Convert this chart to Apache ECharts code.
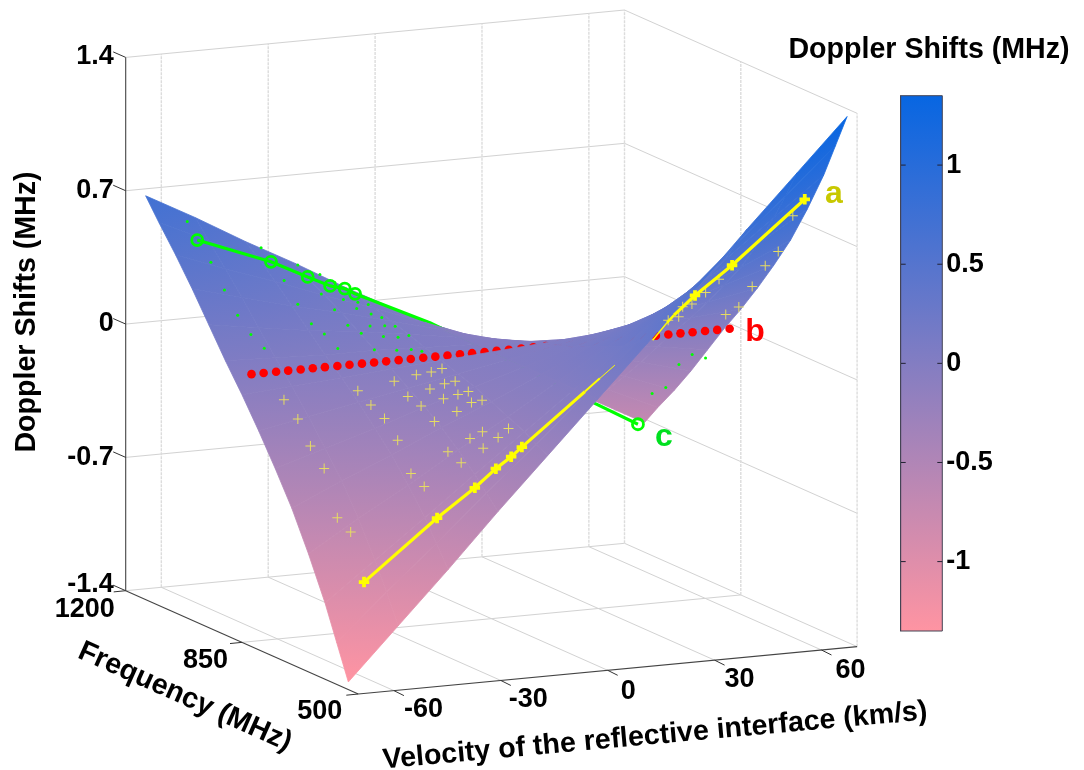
<!DOCTYPE html>
<html><head><meta charset="utf-8"><style>html,body{margin:0;padding:0;background:#fff}#c{width:1084px;height:770px}</style>
<script src="https://cdn.jsdelivr.net/npm/echarts@6/dist/echarts.min.js"></script></head><body><div id="c"></div>
<script>
// ---------- tick labels
var velocityTicks = [-60, -30, 0, 30, 60];
var frequencyTicks = [1200, 850, 500];
var dopplerTicks = [-1.4, -0.7, 0, 0.7, 1.4];
var colorbarTicks = [-1, -0.5, 0, 0.5, 1];
// ---------- surface (rows far to near)
var surfaceFreq = [1140, 1100, 1050, 1000, 950, 900, 850, 800, 750, 700, 650, 600, 565, 530];
var surfaceVel = [-70, -56, -42, -28, -14, 0, 14, 28, 42, 56, 70];
var surfaceZ = [
 [0.72, 0.58, 0.43, 0.29, 0.14, 0, -0.14, -0.29, -0.43, -0.58, -0.72],
 [0.61, 0.49, 0.37, 0.24, 0.12, 0, -0.12, -0.24, -0.37, -0.49, -0.61],
 [0.48, 0.38, 0.29, 0.19, 0.10, 0, -0.10, -0.19, -0.29, -0.38, -0.48],
 [0.34, 0.27, 0.20, 0.14, 0.07, 0, -0.07, -0.14, -0.20, -0.27, -0.34],
 [0.19, 0.15, 0.11, 0.08, 0.04, 0, -0.04, -0.08, -0.11, -0.15, -0.19],
 [0.04, 0.03, 0.02, 0.02, 0.01, 0, -0.01, -0.02, -0.02, -0.03, -0.04],
 [-0.10, -0.08, -0.06, -0.04, -0.02, 0, 0.02, 0.04, 0.06, 0.08, 0.10],
 [-0.25, -0.20, -0.15, -0.10, -0.05, 0, 0.05, 0.10, 0.15, 0.20, 0.25],
 [-0.41, -0.33, -0.25, -0.16, -0.08, 0, 0.08, 0.16, 0.25, 0.33, 0.41],
 [-0.58, -0.46, -0.35, -0.23, -0.12, 0, 0.12, 0.23, 0.35, 0.46, 0.58],
 [-0.78, -0.62, -0.47, -0.31, -0.16, 0, 0.16, 0.31, 0.47, 0.62, 0.78],
 [-1.00, -0.80, -0.60, -0.40, -0.20, 0, 0.20, 0.40, 0.60, 0.80, 1.00],
 [-1.18, -0.94, -0.71, -0.47, -0.24, 0, 0.24, 0.47, 0.71, 0.94, 1.18],
 [-1.36, -1.09, -0.82, -0.54, -0.27, 0, 0.27, 0.54, 0.82, 1.09, 1.36]
];
// ---------- line a (yellow): [velocity, frequency, doppler]
var lineALow = [[-60,590,-0.90],[-39.5,590,-0.60],[-28.9,590,-0.46],[-23,590,-0.37],[-18.7,590,-0.315],[-15.7,590,-0.27]];
var lineALowFull = [[2,590,-0.01]];
var lineALowMid = [[6.2,590,0.052]];
var lineALowTip = [[10.4,590,0.114]];
var lineAHighTip = [[21,590,0.226]];
var lineAHighMid = [[25,590,0.31]];
var lineAHighFull = [[27,590,0.347]];
var lineAHigh = [[32.9,590,0.44],[43.3,590,0.58],[63.7,590,0.89]];
// ---------- line b (red dots)
var lineBVel = [-65,-61.6,-58.1,-54.7,-51.2,-47.8,-44.4,-40.9,-37.5,-34,-30.6,-27.2,-23.7,-20.3,-16.8,-13.4,-10,-6.5,-3.1,0.4,3.8,7.2,10.7,14.1,17.6,21,24.4,27.9,31.3,34.8,38.2,41.6,45.1,48.5,52,55.4,58.8,62.3,65.7,69.2];
var lineBFreq = 875;
var lineBZ = -0.02;
// ---------- line c (green)
var lineCMarked = [[-60,1092,0.507],[-39.3,1092,0.356],[-29,1092,0.258],[-22.7,1092,0.20],[-18.6,1092,0.178],[-15.7,1092,0.146]];
var lineCMid = [[5.3,1092,-0.043],[51.6,1092,-0.549]];
var lineCEnd = [[63.7,1092,-0.68]];
// ---------- scattered measurements on the surface
var yellowPoints = [[-59.9,832,-0.13],[-58.8,802,-0.21],[-59.1,761,-0.32],[-58.6,725,-0.41],[-60.5,665,-0.62],[-58.8,643,-0.68],[-40.1,822,-0.11],[-39.6,788,-0.16],[-38.5,759,-0.21],[-38.8,716,-0.29],[-40.2,661,-0.42],[-39,634,-0.47],[-29.7,824,-0.08],[-29.6,784,-0.13],[-28.5,756,-0.16],[-28.5,716,-0.21],[-30.2,657,-0.32],[-29,630,-0.36],[-23.3,826,-0.06],[-23.5,783,-0.10],[-22.6,752,-0.13],[-22.1,717,-0.17],[-24.2,655,-0.26],[-23.2,626,-0.29],[-19.4,823,-0.05],[-19.4,783,-0.08],[-19,747,-0.11],[-18,717,-0.13],[-20.8,654,-0.23],[-19.1,625,-0.24],[-16.1,826,-0.04],[-16.7,780,-0.07],[-16,748,-0.10],[-15.4,713,-0.12],[-16,627,-0.20],[65.2,642,0.76],[68.1,717,0.51],[66.6,740,0.42],[67.6,790,0.27],[68.7,842,0.12],[66.8,861,0.07],[49.9,700,0.41],[50.8,750,0.30],[50.5,788,0.21],[50.8,831,0.11],[48,789,0.20],[48.5,838,0.09]];
var greenPoints = [[-59.9,1123,0.58],[-59.8,1053,0.42],[-60.2,1008,0.31],[-60.4,966,0.21],[-59.4,937,0.13],[-57.5,917,0.07],[-37.6,1140,0.39],[-38.5,1061,0.28],[-39.7,1007,0.20],[-39.8,965,0.13],[-38.2,943,0.09],[-37.6,909,0.04],[-27.3,1140,0.28],[-28.9,1052,0.20],[-29.1,1010,0.15],[-29.2,969,0.10],[-27.3,949,0.07],[-27.9,903,0.02],[-21.1,1140,0.22],[-22.7,1052,0.16],[-21.4,1026,0.13],[-22.4,975,0.08],[-21.9,940,0.05],[-21.9,900,0.01],[-16.9,1140,0.17],[-17.8,1061,0.13],[-17.9,1020,0.10],[-17.9,979,0.07],[-17.8,940,0.04],[-18.2,896,0.01],[-14.7,1063,0.11],[-15.3,1016,0.08],[-14.8,981,0.06],[-14.4,944,0.04],[-15.7,891,0],[71.2,969,-0.25],[66.9,963,-0.22],[65.6,989,-0.29],[67.4,1048,-0.46],[66.1,1075,-0.51]];

// ---------- orthographic view of the box v[-70,70], f[500,1200], z[-1.4,1.4]
var V0=-70,V1=70,F0=500,F1=1200,Z0=-1.4,Z1=1.4,ZC=1.35;
function project(v,f,z){
  var a=(v-V0)/(V1-V0), b=(F1-f)/(F1-F0), c=(z-Z0)/(Z1-Z0);
  return [125.7+a*498.8+b*232.6, 590.7-a*47.4+b*103.3-c*533.3];
}
function proj3(p){return project(p[0],p[1],p[2]);}
var TOP=[7,102,226],BOT=[255,148,162];
function colorOf(z){
  var t=Math.max(0,Math.min(1,(z+ZC)/(2*ZC)));
  return 'rgb('+[0,1,2].map(function(i){return Math.round(BOT[i]+t*(TOP[i]-BOT[i]));}).join(',')+')';
}
// ---------- box lines
var boxLines=[];
function L(a,b,kind){boxLines.push([a,b,kind]);}
dopplerTicks.forEach(function(z){
  L([V0,F1,z],[V1,F1,z],'g'); L([V1,F1,z],[V1,F0,z],'g');
});
velocityTicks.forEach(function(v){
  L([v,F1,Z0],[v,F1,Z1],'d'); L([v,F1,Z0],[v,F0,Z0],'g');
});
L([V1,F1,Z0],[V1,F1,Z1],'d'); L([V1,850,Z0],[V1,850,Z1],'d'); L([V1,F0,Z0],[V1,F0,Z1],'d');
L([V0,850,Z0],[V1,850,Z0],'g');
L([V0,F1,Z0],[V0,F1,Z1],'k'); L([V0,F1,Z0],[V0,F0,Z0],'k'); L([V0,F0,Z0],[V1,F0,Z0],'k');
var tickLines=[];
dopplerTicks.forEach(function(z){tickLines.push({p:[V0,F1,z],d:[-12.5,-5.5]});});
frequencyTicks.forEach(function(f){tickLines.push({p:[V0,f,Z0],d:[-12,1.2]});});
velocityTicks.forEach(function(v){tickLines.push({p:[v,F0,Z0],d:[10,5]});});
var FAM='"Liberation Sans", Arial, sans-serif';
var FONT='bold 27px '+FAM, TFONT='bold 28.6px '+FAM;
var texts=[];
dopplerTicks.forEach(function(z,i){
  var p=project(V0,F1,z); texts.push({t:String(z),x:p[0]-12,y:p[1]-[6,0,1,0,1][i],al:'right'});
});
frequencyTicks.forEach(function(f,i){
  var p=project(V0,f,Z0); texts.push({t:String(f),x:p[0]+[-11,-14,-16][i],y:p[1]+[19,18,18][i],al:'right'});
});
velocityTicks.forEach(function(v,i){
  var p=project(v,F0,Z0); texts.push({t:String(v),x:p[0]+[10,8,13,10,14][i],y:p[1]+[19,19,21,19,21][i],al:'left'});
});
texts.push({t:'Doppler Shifts (MHz)',x:929,y:50,al:'center',font:TFONT});
texts.push({t:'Doppler Shifts (MHz)',x:27,y:312,al:'center',font:TFONT,rot:Math.PI/2});
texts.push({t:'Frequency (MHz)',x:185,y:697,al:'center',font:TFONT,rot:-0.42});
texts.push({t:'Velocity of the reflective interface (km/s)',x:655,y:736,al:'center',font:TFONT,rot:0.09});
var BIG='bold 32px '+FAM;
texts.push({t:'a',x:834,y:194,al:'center',font:BIG,fill:'#c8c800'});
texts.push({t:'b',x:755,y:332,al:'center',font:BIG,fill:'#ff0000'});
texts.push({t:'c',x:664,y:437,al:'center',font:BIG,fill:'#00e020'});

// ---------- surface cells
function cellData(r0,r1){
  var out=[];
  for(var r=r0;r<=r1;r++) for(var c=surfaceVel.length-2;c>=0;c--) out.push([r,c]);
  return out;
}
function renderCell(params,api){
  var r=api.value(0),c=api.value(1);
  var idx=[[r,c],[r,c+1],[r+1,c+1],[r+1,c]];
  var zs=idx.map(function(q){return surfaceZ[q[0]][q[1]];});
  var pts=idx.map(function(q){
    return api.coord(project(surfaceVel[q[1]],surfaceFreq[q[0]],surfaceZ[q[0]][q[1]]));
  });
  var e1=[pts[2][0]-pts[0][0],pts[2][1]-pts[0][1]],e2=[pts[3][0]-pts[1][0],pts[3][1]-pts[1][1]];
  var d1=zs[2]-zs[0],d2=zs[3]-zs[1];
  var det=e1[0]*e2[1]-e1[1]*e2[0];
  var zmin=Math.min.apply(null,zs),zmax=Math.max.apply(null,zs);
  var cx=(pts[0][0]+pts[1][0]+pts[2][0]+pts[3][0])/4,cy=(pts[0][1]+pts[1][1]+pts[2][1]+pts[3][1])/4;
  var zc=(zs[0]+zs[1]+zs[2]+zs[3])/4;
  var fill=colorOf(zc);
  if(Math.abs(det)>30){
    var a=(d1*e2[1]-d2*e1[1])/det,b=(e1[0]*d2-e2[0]*d1)/det,g=Math.sqrt(a*a+b*b);
    if(g>1e-6){
      var ux=a/g,uy=b/g,tmin=1e9,tmax=-1e9;
      pts.forEach(function(p){var t=(p[0]-cx)*ux+(p[1]-cy)*uy;tmin=Math.min(tmin,t);tmax=Math.max(tmax,t);});
      var z0=Math.max(zmin,Math.min(zmax,zc+g*tmin)),z1=Math.max(zmin,Math.min(zmax,zc+g*tmax));
      fill=new echarts.graphic.LinearGradient(cx+ux*tmin,cy+uy*tmin,cx+ux*tmax,cy+uy*tmax,
        [{offset:0,color:colorOf(z0)},{offset:1,color:colorOf(z1)}],true);
    }
  }
  return {type:'polygon',shape:{points:pts},style:{fill:fill,stroke:fill,lineWidth:0.8}};
}
function surfaceLayer(r0,r1,z){
  return {type:'custom',xAxisIndex:0,yAxisIndex:0,coordinateSystem:'cartesian2d',data:cellData(r0,r1),renderItem:renderCell,z:z,silent:true,animation:false,clip:false,progressive:0,encode:{x:0,y:1}};
}
var THIN='path://M4.5 0h1v4.5h4.5v1h-4.5v4.5h-1v-4.5h-4.5v-1h4.5z';
var THICK='path://M3.2 0h3.6v3.2h3.2v3.6h-3.2v3.2h-3.6v-3.2h-3.2v-3.6h3.2z';
function lineData(arr,sym){
  return arr.map(function(p){var o={value:proj3(p)}; o.symbol=sym||'none'; return o;});
}
function yellowLine(data,width){
  return {type:'line',xAxisIndex:0,yAxisIndex:0,z:8,silent:true,clip:false,lineStyle:{color:'#ffff00',width:width},itemStyle:{color:'#ffff00',opacity:1},symbolSize:10.5,showSymbol:true,data:data};
}
var ringStyle={color:'rgba(0,0,0,0)',borderColor:'#00ff00',borderWidth:2.8,opacity:1};
var option={
  animation:false,
  backgroundColor:'#fff',
  grid:[{left:0,top:0,width:1084,height:770,containLabel:false},{left:900.7,top:95.7,width:41.6,height:535.3}],
  xAxis:[{type:'value',min:0,max:1084,show:false,gridIndex:0},{type:'value',min:0,max:1,show:false,gridIndex:1}],
  yAxis:[
    {type:'value',min:0,max:770,inverse:true,show:false,gridIndex:0},
    {type:'value',gridIndex:1,position:'right',min:-ZC,max:ZC,z:10,splitLine:{show:false},
     axisLine:{show:true,lineStyle:{color:'#445',width:1}},
     axisTick:{show:false},
     axisLabel:{show:true,customValues:colorbarTicks,margin:4,color:'#000',fontFamily:FAM,fontWeight:'bold',fontSize:27,padding:[3,0,0,0],formatter:function(v){return String(v);}}}
  ],
  series:[
    {type:'custom',xAxisIndex:0,yAxisIndex:0,data:boxLines.map(function(l,i){return [i,0];}),z:1,silent:true,clip:false,encode:{x:0,y:1},
     renderItem:function(params,api){
       var l=boxLines[api.value(0)],a=api.coord(proj3(l[0])),b=api.coord(proj3(l[1]));
       var st=l[2]=='k'?{stroke:'#444',lineWidth:1.1}:l[2]=='d'?{stroke:'#dcdcdc',lineWidth:1.4,lineDash:[3,1]}:{stroke:'#d2d2d2',lineWidth:1};
       return {type:'line',shape:{x1:a[0],y1:a[1],x2:b[0],y2:b[1]},style:st};
     }},
    {type:'custom',xAxisIndex:0,yAxisIndex:0,data:tickLines.map(function(l,i){return [i,0];}),z:1,silent:true,clip:false,encode:{x:0,y:1},
     renderItem:function(params,api){
       var l=tickLines[api.value(0)],a=api.coord(proj3(l.p));
       return {type:'line',shape:{x1:a[0],y1:a[1],x2:a[0]+l.d[0],y2:a[1]+l.d[1]},style:{stroke:'#333',lineWidth:1}};
     }},
    surfaceLayer(0,1,2),
    {type:'line',xAxisIndex:0,yAxisIndex:0,z:3,silent:true,clip:false,lineStyle:{color:'#00ff00',width:3.2},itemStyle:ringStyle,symbolSize:11,showSymbol:true,
     data:lineData(lineCMarked,'circle').concat(lineData(lineCMid)).concat(lineData(lineCEnd,'circle'))},
    surfaceLayer(2,5,4),
    {type:'scatter',xAxisIndex:0,yAxisIndex:0,z:5,silent:true,clip:false,symbol:'circle',symbolSize:8.6,itemStyle:{color:'#ff0000',opacity:1},
     data:lineBVel.map(function(v){return project(v,lineBFreq,lineBZ);})},
    surfaceLayer(6,12,6),
    {type:'scatter',xAxisIndex:0,yAxisIndex:0,z:7,silent:true,clip:false,symbol:THIN,symbolSize:10,itemStyle:{color:'#e6dc62',opacity:1},data:yellowPoints.map(proj3)},
    {type:'scatter',xAxisIndex:0,yAxisIndex:0,z:7,silent:true,clip:false,symbol:'circle',symbolSize:3,itemStyle:{color:'#00ff00',opacity:1},data:greenPoints.map(proj3)},
    yellowLine(lineData(lineALow,THICK).concat(lineData(lineALowFull)),3.2),
    yellowLine(lineData(lineALowFull).concat(lineData(lineALowMid)),2),
    yellowLine(lineData(lineALowMid).concat(lineData(lineALowTip)),1),
    yellowLine(lineData(lineAHighTip).concat(lineData(lineAHighMid)),1.5),
    yellowLine(lineData(lineAHighMid).concat(lineData(lineAHighFull)),2.4),
    yellowLine(lineData(lineAHighFull).concat(lineData(lineAHigh,THICK)),3.2),
    {type:'custom',xAxisIndex:0,yAxisIndex:0,data:texts.map(function(t,i){return [i,0];}),z:9,silent:true,clip:false,encode:{x:0,y:1},
     renderItem:function(params,api){
       var t=texts[api.value(0)],p=api.coord([t.x,t.y]);
       return {type:'text',x:p[0],y:p[1],rotation:t.rot||0,style:{text:t.t,x:0,y:0,font:t.font||FONT,fill:t.fill||'#000',textAlign:t.al,textVerticalAlign:'middle'}};
     }},
    {type:'custom',xAxisIndex:1,yAxisIndex:1,data:[[0,ZC]],z:2,silent:true,encode:{x:0,y:1},
     renderItem:function(params,api){
       var a=api.coord([0,ZC]),b=api.coord([1,-ZC]);
       return {type:'rect',shape:{x:a[0],y:a[1],width:b[0]-a[0],height:b[1]-a[1]},
         style:{fill:new echarts.graphic.LinearGradient(0,0,0,1,[{offset:0,color:colorOf(ZC)},{offset:1,color:colorOf(-ZC)}]),stroke:'#445',lineWidth:1}};
     }},
    {type:'custom',xAxisIndex:1,yAxisIndex:1,data:colorbarTicks.map(function(t){return [0,t];}),z:3,silent:true,encode:{x:0,y:1},
     renderItem:function(params,api){
       var a=api.coord([0,api.value(1)]),b=api.coord([1,api.value(1)]),st={stroke:'#223',lineWidth:1};
       return {type:'group',children:[
         {type:'line',shape:{x1:a[0],y1:a[1],x2:a[0]+5,y2:a[1]},style:st},
         {type:'line',shape:{x1:b[0]-5,y1:b[1],x2:b[0],y2:b[1]},style:st}
       ]};
     }}
  ]
};
echarts.init(document.getElementById('c'),null,{renderer:'canvas'}).setOption(option);
</script></body></html>
